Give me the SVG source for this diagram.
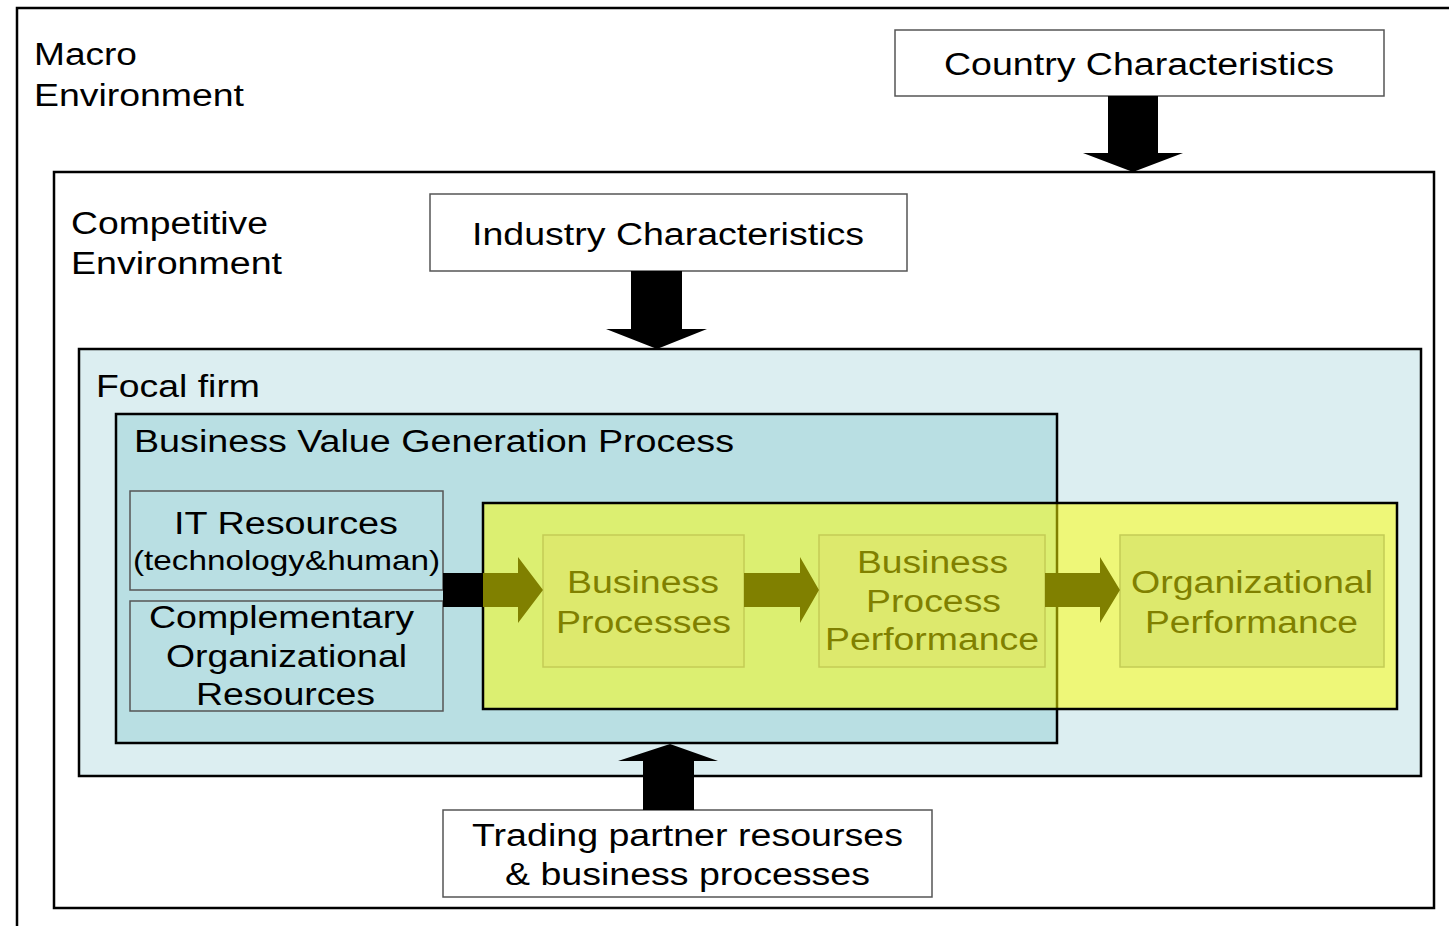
<svg xmlns="http://www.w3.org/2000/svg" width="1449" height="926" viewBox="0 0 1449 926">
<style>
.frame{fill:#ffffff;stroke:#000;stroke-width:2.5}
.tbox{fill:#ffffff;stroke:#555;stroke-width:1.5}
.t{font-family:"Liberation Sans",Arial,sans-serif;font-size:31px;fill:#000}
.o{font-family:"Liberation Sans",Arial,sans-serif;font-size:31px;fill:#808000}
.res{fill:#b9dfe3;stroke:#555;stroke-width:1.5}
.inner{fill:#dde96d;stroke:#c3cc55;stroke-width:1.5}
.blk{fill:#000}
.olv{fill:#808000}
</style>
<rect x="0" y="0" width="1449" height="926" fill="#ffffff"/>
<g id="macro">
<rect class="frame" x="17" y="8" width="1460" height="940"/>
<text class="t" x="34" y="65" textLength="103" lengthAdjust="spacingAndGlyphs">Macro</text>
<text class="t" x="34" y="106" textLength="210" lengthAdjust="spacingAndGlyphs">Environment</text>
</g>
<g id="competitive">
<rect class="frame" x="54" y="172" width="1380" height="736"/>
<text class="t" x="71" y="234" textLength="197" lengthAdjust="spacingAndGlyphs">Competitive</text>
<text class="t" x="71" y="274" textLength="211" lengthAdjust="spacingAndGlyphs">Environment</text>
</g>
<g id="country">
<rect class="tbox" x="895" y="30" width="489" height="66"/>
<text class="t" x="944" y="75" textLength="390" lengthAdjust="spacingAndGlyphs">Country Characteristics</text>
</g>
<g id="industry">
<rect class="tbox" x="430" y="194" width="477" height="77"/>
<text class="t" x="472" y="245" textLength="392" lengthAdjust="spacingAndGlyphs">Industry Characteristics</text>
</g>
<g id="focal">
<rect x="79" y="349" width="1342" height="427" fill="#dceef1" stroke="#000" stroke-width="2.5"/>
<text class="t" x="96" y="397" textLength="164" lengthAdjust="spacingAndGlyphs">Focal firm</text>
</g>
<g id="bvgp">
<rect x="116" y="414" width="941" height="329" fill="#b9dfe3" stroke="#000" stroke-width="2.5"/>
<text class="t" x="134" y="452" textLength="600" lengthAdjust="spacingAndGlyphs">Business Value Generation Process</text>
</g>
<g id="it">
<rect class="res" x="130" y="491" width="313" height="99"/>
<text class="t" x="174" y="534" textLength="224" lengthAdjust="spacingAndGlyphs">IT Resources</text>
<text class="t" x="133" y="570" font-size="28" style="font-size:28px" textLength="307" lengthAdjust="spacingAndGlyphs">(technology&amp;human)</text>
</g>
<g id="complementary">
<rect class="res" x="130" y="601" width="313" height="110"/>
<text class="t" x="149" y="628" textLength="265" lengthAdjust="spacingAndGlyphs">Complementary</text>
<text class="t" x="166" y="667" textLength="241" lengthAdjust="spacingAndGlyphs">Organizational</text>
<text class="t" x="196" y="705" textLength="179" lengthAdjust="spacingAndGlyphs">Resources</text>
</g>
<g id="connectors-black">
<rect class="blk" x="443" y="573" width="40" height="34"/>
</g>
<g id="yellow">
<rect x="483" y="503" width="914" height="206" fill="#ffff00" fill-opacity="0.5" stroke="#000" stroke-width="2.5"/>
</g>
<g id="bp">
<rect class="inner" x="543" y="535" width="201" height="132"/>
<text class="o" x="567" y="593" textLength="152" lengthAdjust="spacingAndGlyphs">Business</text>
<text class="o" x="556" y="633" textLength="175" lengthAdjust="spacingAndGlyphs">Processes</text>
</g>
<g id="bpp">
<rect class="inner" x="819" y="535" width="226" height="132"/>
<text class="o" x="857" y="573" textLength="151" lengthAdjust="spacingAndGlyphs">Business</text>
<text class="o" x="866" y="612" textLength="135" lengthAdjust="spacingAndGlyphs">Process</text>
<text class="o" x="825" y="650" textLength="214" lengthAdjust="spacingAndGlyphs">Performance</text>
</g>
<g id="op">
<rect class="inner" x="1120" y="535" width="264" height="132"/>
<text class="o" x="1131" y="593" textLength="242" lengthAdjust="spacingAndGlyphs">Organizational</text>
<text class="o" x="1145" y="633" textLength="213" lengthAdjust="spacingAndGlyphs">Performance</text>
</g>
<g id="trading">
<rect class="tbox" x="443" y="810" width="489" height="87"/>
<text class="t" x="472" y="846" textLength="431" lengthAdjust="spacingAndGlyphs">Trading partner resourses</text>
<text class="t" x="505" y="885" textLength="365" lengthAdjust="spacingAndGlyphs">&amp; business processes</text>
</g>
<g id="connectors">
<polygon class="blk" points="1108,96 1158,96 1158,153 1183,153 1133,172 1083,153 1108,153"/>
<polygon class="blk" points="631,271 682,271 682,329 707,329 657,349 606,329 631,329"/>
<polygon class="blk" points="643,810 694,810 694,761 718,761 670,744 618,761 643,761"/>
<polygon class="olv" points="483,573 518,573 518,557 543,590 518,623 518,607 483,607"/>
<polygon class="olv" points="744,573 800,573 800,557 819,590 800,623 800,607 744,607"/>
<polygon class="olv" points="1045,573 1100,573 1100,557 1120,590 1100,623 1100,607 1045,607"/>
</g>
</svg>
